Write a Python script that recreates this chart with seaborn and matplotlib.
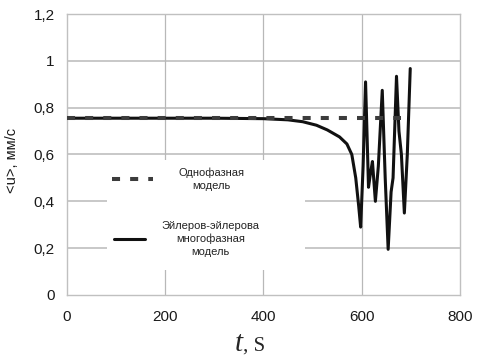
import pandas as pd
import seaborn as sns
import matplotlib.pyplot as plt
from matplotlib.ticker import FuncFormatter
from matplotlib.patches import Rectangle

# однофазная модель (пунктир)
t_single = [0, 681]
u_single = [0.755, 0.755]

# эйлеров-эйлерова многофазная модель
t_multi = [0, 300, 400, 450, 480, 508, 530, 555, 570, 580, 588, 594, 598, 603, 608,
           614, 618, 622, 628, 634, 642, 648, 654, 660, 664, 671, 676, 681, 687, 693, 699]
u_multi = [0.755, 0.755, 0.753, 0.748, 0.74, 0.725, 0.705, 0.675, 0.645, 0.6, 0.5, 0.38, 0.29, 0.55, 0.91,
           0.46, 0.52, 0.57, 0.40, 0.55, 0.874, 0.5, 0.195, 0.44, 0.5, 0.934, 0.7, 0.6, 0.35, 0.6, 0.967]

x_ticks = [0, 200, 400, 600, 800]
y_ticks = [0, 0.2, 0.4, 0.6, 0.8, 1.0, 1.2]

label_single = "Однофазная\nмодель"
label_multi = "Эйлеров-эйлерова\nмногофазная\nмодель"

sns.set_theme(style="white")
plt.rcParams['font.family'] = ['Liberation Sans', 'DejaVu Sans']

df_s = pd.DataFrame({"t": t_single, "u": u_single})
df_m = pd.DataFrame({"t": t_multi, "u": u_multi})

fig = plt.figure(figsize=(4.8, 3.6), dpi=100)
ax = fig.add_axes([0.1396, 0.1806, 0.8184, 0.7805])

sns.lineplot(data=df_m, x="t", y="u", color="#111111", linewidth=2.2,
             label=label_multi, ax=ax, zorder=3)
sns.lineplot(data=df_s, x="t", y="u", color="#3c3c3c", linewidth=2.9,
             linestyle=(0, (2.0, 2.5)), label=label_single, ax=ax, zorder=4)

ax.set_xlim(0, 800)
ax.set_ylim(0, 1.2)
ax.set_xticks(x_ticks)
ax.set_yticks(y_ticks)
ax.yaxis.set_major_formatter(FuncFormatter(lambda v, p: f"{v:g}".replace(".", ",")))
ax.tick_params(labelsize=11, colors="#1a1a1a", length=0)
ax.tick_params(axis="x", pad=11)
ax.tick_params(axis="y", pad=9)

for y in y_ticks[1:-1]:
    ax.axhline(y, color="#c8c8c8", lw=1.4, zorder=1)
for x in x_ticks[1:-1]:
    ax.axvline(x, color="#b8b8b8", lw=0.9, zorder=1)
for s in ax.spines.values():
    s.set_color("#c0c0c0")
    s.set_linewidth(1.0)

# белая подложка легенды
ax.add_patch(Rectangle((0.1018, 0.089), 0.504, 0.391, transform=ax.transAxes,
                       facecolor="white", edgecolor="none", zorder=2))

ax.set_xlabel("")
ax.set_ylabel("")
fig.text(12 / 480, 1 - 160 / 360, "<u>, мм/с", rotation=90, fontsize=10.5,
         color="#1a1a1a", ha="center", va="center")
fig.text(243 / 480, 9 / 360, "t", fontsize=21, family="Liberation Serif",
         style="italic", ha="right", va="baseline")
fig.text(243 / 480, 9 / 360, ", S", fontsize=15, family="Liberation Serif",
         ha="left", va="baseline")

h, l = ax.get_legend_handles_labels()
leg1 = ax.legend([h[1]], [l[1]], loc="center left", bbox_to_anchor=(0.1145, 0.412),
                 fontsize=8, frameon=False, handlelength=3.7, handletextpad=2.25,
                 borderpad=0, borderaxespad=0)
for txt in leg1.get_texts():
    txt.set_multialignment("center")
    txt.set_linespacing(1.35)
    txt.set_color("#222222")
ax.add_artist(leg1)
leg2 = ax.legend([h[0]], [l[0]], loc="center left", bbox_to_anchor=(0.1196, 0.2),
                 fontsize=8, frameon=False, handlelength=2.8, handletextpad=1.5,
                 borderpad=0, borderaxespad=0)
for txt in leg2.get_texts():
    txt.set_multialignment("center")
    txt.set_linespacing(1.35)
    txt.set_color("#222222")
leg1.set_zorder(5)
leg2.set_zorder(5)

fig.savefig("out.png", dpi=100)
